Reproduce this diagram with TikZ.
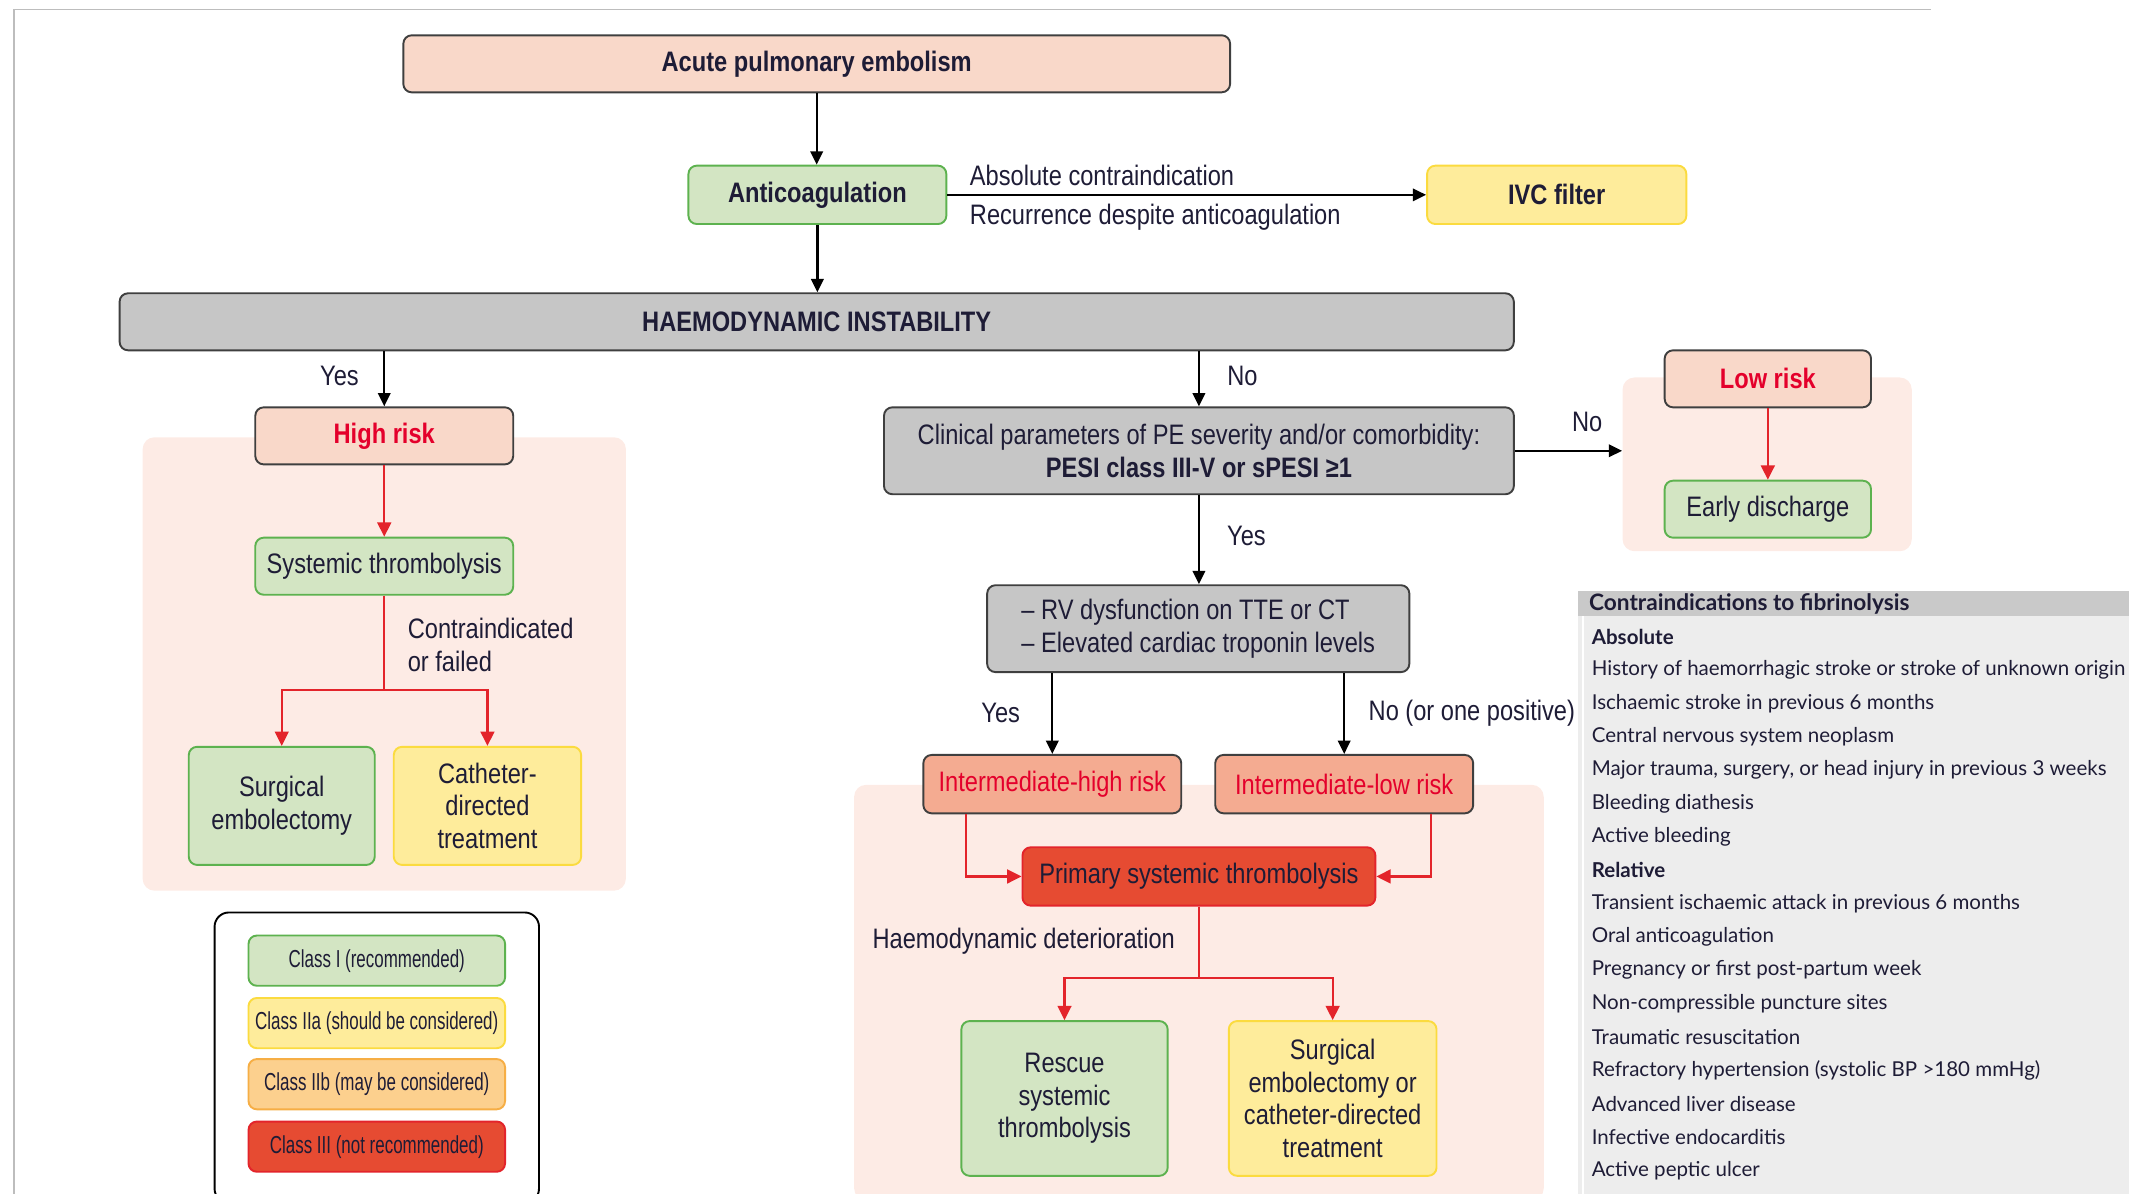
\documentclass[tikz,border=0pt]{standalone}
\usepackage{fontspec}
\setmainfont{Liberation Sans}[FakeStretch=0.84]
\newfontfamily\legendfont{Liberation Sans}[FakeStretch=0.69]
\newfontfamily\tablefont{Lato}
\usepackage{xcolor}
\usetikzlibrary{arrows.meta,positioning}

\definecolor{salmon}{HTML}{F9D8C9}
\definecolor{regionpink}{HTML}{FDEBE5}
\definecolor{greenfill}{HTML}{D3E5C3}
\definecolor{greenline}{HTML}{5DB24F}
\definecolor{yellowfill}{HTML}{FEEC9B}
\definecolor{yellowline}{HTML}{FBDB3F}
\definecolor{orangefill}{HTML}{FCD08E}
\definecolor{orangeline}{HTML}{F6AE45}
\definecolor{greyfill}{HTML}{C6C6C6}
\definecolor{darkline}{HTML}{3F3F3F}
\definecolor{interfill}{HTML}{F4AB91}
\definecolor{redfill}{HTML}{E64B32}
\definecolor{arrowred}{HTML}{E3242B}
\definecolor{riskred}{HTML}{E4002B}
\definecolor{inktext}{HTML}{1E1C36}
\definecolor{framegrey}{HTML}{BDBDBD}
\definecolor{tablehead}{HTML}{C9C9C9}
\definecolor{tablebody}{HTML}{EDEDED}

\newcommand{\boxfs}{\fontsize{11.8}{13.6}\selectfont}
\newcommand{\legendfs}{\legendfont\fontsize{10.3}{12}\selectfont}
\newcommand{\tablefs}{\tablefont\fontsize{8.6}{10}\selectfont}

\begin{document}
\begin{tikzpicture}[x=0.02cm, y=-0.02cm]
    \tikzstyle{box} = [rectangle, rounded corners=3.5pt, line width=0.8pt,
        inner sep=0pt, align=center, text=inktext, font=\boxfs]
    \tikzstyle{riskbox} = [box, draw=darkline, fill=salmon, text=riskred, font=\boxfs\bfseries]
    \tikzstyle{startbox} = [box, draw=darkline, fill=salmon, font=\boxfs\bfseries]
    \tikzstyle{greybox} = [box, draw=darkline, fill=greyfill]
    \tikzstyle{greenbox} = [box, draw=greenline, fill=greenfill]
    \tikzstyle{yellowbox} = [box, draw=yellowline, fill=yellowfill]
    \tikzstyle{interbox} = [box, draw=darkline, fill=interfill, text=riskred]
    \tikzstyle{redbox} = [box, draw=arrowred, fill=redfill]
    \tikzstyle{zone} = [rectangle, rounded corners=5pt, fill=regionpink, inner sep=0pt]
    \tikzstyle{legendbox} = [rectangle, rounded corners=3.5pt, line width=0.8pt,
        minimum width=3.78cm, minimum height=0.74cm, inner sep=0pt, text=inktext, font=\legendfs]
    \tikzstyle{lbl} = [inner sep=0pt, text=inktext, font=\boxfs]
    \tikzstyle{tabrow} = [anchor=west, inner sep=0pt, text=inktext, font=\tablefs]
    \tikzstyle{arrowline} = [draw, line width=1pt, -{Triangle[length=5.6pt,width=5.2pt]}]
    \tikzstyle{redarrow} = [draw=arrowred, line width=0.9pt, -{Triangle[length=6pt,width=5.8pt]}]
    \tikzstyle{redlink} = [draw=arrowred, line width=0.9pt]

    \useasboundingbox (0,0) rectangle (1568,879);
    \draw[framegrey, line width=0.8pt] (10,879) -- (10,7) -- (1422,7);

    % shaded zones
    \node[zone, minimum width=7.12cm, minimum height=6.68cm] (highzone) at (283,489) {};
    \node[zone, minimum width=4.26cm, minimum height=2.56cm] (lowzone) at (1301.5,342) {};
    \node[zone, minimum width=10.16cm, minimum height=6.12cm] (interzone) at (883,731) {};

    % main flow
    \node[startbox, minimum width=12.18cm, minimum height=0.84cm] (acute) at (601.5,47) {Acute pulmonary embolism};
    \node[greenbox, font=\boxfs\bfseries, minimum width=3.8cm, minimum height=0.86cm] (anti) at (602,143.5) {Anticoagulation};
    \node[yellowbox, font=\boxfs\bfseries, minimum width=3.82cm, minimum height=0.86cm] (ivc) at (1146.5,143.5) {IVC filter};
    \node[greybox, font=\boxfs\bfseries, minimum width=20.54cm, minimum height=0.84cm] (instab) at (601.5,237) {HAEMODYNAMIC INSTABILITY};

    % high risk branch
    \node[riskbox, minimum width=3.8cm, minimum height=0.84cm] (high) at (283,321) {High risk};
    \node[greenbox, minimum width=3.8cm, minimum height=0.84cm] (sys) at (283,417) {Systemic thrombolysis};
    \node[greenbox, minimum width=2.74cm, minimum height=1.74cm] (surg) at (207.5,593.5) {Surgical\\embolectomy};
    \node[yellowbox, minimum width=2.76cm, minimum height=1.74cm] (cath) at (359,593.5) {Catheter-\\directed\\treatment};
    \coordinate (sysfork) at (283,508);

    % no instability branch
    \node[greybox, minimum width=9.28cm, minimum height=1.28cm] (clin) at (883,332)
        {Clinical parameters of PE severity and/or comorbidity:\\\textbf{PESI class III-V or sPESI ≥1}};
    \node[riskbox, minimum width=3.04cm, minimum height=0.84cm] (low) at (1302,279) {Low risk};
    \node[greenbox, minimum width=3.04cm, minimum height=0.84cm] (early) at (1302,375) {Early discharge};
    \node[greybox, align=left, minimum width=6.22cm, minimum height=1.28cm] (rv) at (882.5,463)
        {-- RV dysfunction on TTE or CT\\-- Elevated cardiac troponin levels};
    \node[interbox, minimum width=3.8cm, minimum height=0.86cm] (ihigh) at (775,577.5) {Intermediate-high risk};
    \node[interbox, minimum width=3.8cm, minimum height=0.86cm] (ilow) at (990,577.5) {Intermediate-low risk};
    \node[redbox, minimum width=5.2cm, minimum height=0.86cm] (prim) at (883,645.5) {Primary systemic thrombolysis};
    \node[greenbox, minimum width=3.04cm, minimum height=2.28cm] (rescue) at (784,809) {Rescue\\systemic\\thrombolysis};
    \node[yellowbox, minimum width=3.06cm, minimum height=2.28cm] (surgcath) at (981.5,809)
        {Surgical\\embolectomy or\\catheter-directed\\treatment};
    \coordinate (primfork) at (883,720);

    % labels
    \node[lbl, anchor=west] (absci) at (714,129) {Absolute contraindication};
    \node[lbl, anchor=west] (recur) at (714,160) {Recurrence despite anticoagulation};
    \node[lbl] (yeshigh) at (250,277) {Yes};
    \node[lbl] (nohigh) at (915,277) {No};
    \node[lbl, anchor=west, align=left] (contra) at (300,475) {Contraindicated\\or failed};
    \node[lbl] (nolow) at (1169,311) {No};
    \node[lbl] (yesrv) at (918,395) {Yes};
    \node[lbl] (yesinter) at (737,525) {Yes};
    \node[lbl] (nointer) at (1084,525) {No (or one positive)};
    \node[lbl] (deter) at (754,693) {Haemodynamic deterioration};

    % connectors
    \path[arrowline] (acute.south) -- (acute.south |- anti.north);
    \path[arrowline] (anti.east) -- (ivc.west);
    \path[arrowline] (anti.south) -- (anti.south |- instab.north);
    \path[arrowline] (instab.south -| high) -- (high.north);
    \path[arrowline] (instab.south -| clin) -- (clin.north);
    \path[arrowline] (clin.east) -- (clin.east -| lowzone.west);
    \path[arrowline] (clin.south) -- (clin.south |- rv.north);
    \path[arrowline] (rv.south -| ihigh) -- (ihigh.north);
    \path[arrowline] (rv.south -| ilow) -- (ilow.north);

    \path[redarrow] (high.south) -- (sys.north);
    \path[redlink] (sys.south) -- (sysfork);
    \path[redarrow] (sysfork) -| (surg.north);
    \path[redarrow] (sysfork) -| (cath.north);
    \path[redarrow] (low.south) -- (early.north);
    \path[redarrow] ([xshift=0.64cm]ihigh.south west) |- (prim.west);
    \path[redarrow] ([xshift=-0.64cm]ilow.south east) |- (prim.east);
    \path[redlink] (prim.south) -- (primfork);
    \path[redarrow] (primfork) -| (rescue.north);
    \path[redarrow] (primfork) -| (surgcath.north);

    % legend
    \node[rectangle, rounded corners=6pt, draw=black, line width=0.8pt, fill=white,
        minimum width=4.78cm, minimum height=4.28cm] (legend) at (277.5,779) {};
    \node[legendbox, draw=greenline, fill=greenfill] (classi) at (277.5,707.5) {Class I (recommended)};
    \node[legendbox, draw=yellowline, fill=yellowfill] (classiia) at (277.5,753.5) {Class IIa (should be considered)};
    \node[legendbox, draw=orangeline, fill=orangefill] (classiib) at (277.5,798.5) {Class IIb (may be considered)};
    \node[legendbox, draw=arrowred, fill=redfill] (classiii) at (277.5,844.5) {Class III (not recommended)};

    % contraindications table
    \fill[tablehead] (1162,435) rectangle (1568,454);
    \fill[tablebody] (1162,454) rectangle (1568,879);
    \draw[white, line width=0.6pt] (1166,454) -- (1166,879);
    \node[tabrow, font=\tablefont\fontsize{9.5}{11}\selectfont\bfseries] (tabhead) at (1170,445) {Contraindications to fibrinolysis};
    \foreach \entry [count=\i from 0] in {\textbf{Absolute},
        History of haemorrhagic stroke or stroke of unknown origin,
        Ischaemic stroke in previous 6 months,
        Central nervous system neoplasm,
        {Major trauma, surgery, or head injury in previous 3 weeks},
        Bleeding diathesis,
        Active bleeding,
        \textbf{Relative},
        Transient ischaemic attack in previous 6 months,
        Oral anticoagulation,
        Pregnancy or first post-partum week,
        Non-compressible puncture sites,
        Traumatic resuscitation,
        Refractory hypertension (systolic BP >180 mmHg),
        Advanced liver disease,
        Infective endocarditis,
        Active peptic ulcer}
        \node[tabrow] (row\i) at (1172,{469+\i*24.56}) {\entry};
\end{tikzpicture}
\end{document}
